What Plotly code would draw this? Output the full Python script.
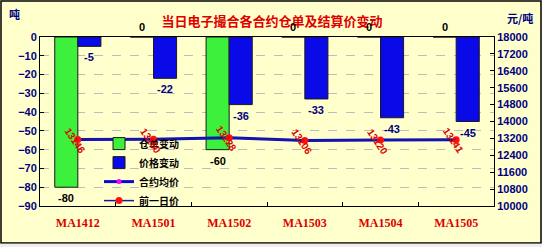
import plotly.graph_objects as go

categories = ["MA1412", "MA1501", "MA1502", "MA1503", "MA1504", "MA1505"]
warrant_change = [-80, 0, -60, 0, 0, 0]          # 仓单变动 (吨)
price_change = [-5, -22, -36, -33, -43, -45]     # 价格变动 (元/吨)
avg_price = [13146, 13160, 13228, 13106, 13120, 13141]   # 合约均价
prev_price = [13146, 13160, 13228, 13106, 13120, 13141]  # 前一日价

BG = "#FFFFCC"
NAVY = "#000080"
RED = "#E00000"

fig = go.Figure()
fig.add_trace(go.Bar(x=categories, y=warrant_change, name="仓单变动",
                     marker=dict(color="#3CF03C", line=dict(color="#1a1a1a", width=1))))
fig.add_trace(go.Bar(x=categories, y=price_change, name="价格变动",
                     marker=dict(color="#0A0AE8", line=dict(color="#1a1a1a", width=1))))
fig.add_trace(go.Scatter(x=categories, y=avg_price, name="合约均价", yaxis="y2",
                         mode="lines+markers",
                         line=dict(color="#0A0AD0", width=3),
                         marker=dict(color="#FF00FF", size=5)))
fig.add_trace(go.Scatter(x=categories, y=prev_price, name="前一日价", yaxis="y2",
                         mode="lines+markers",
                         line=dict(color="#1a1a90", width=1.5),
                         marker=dict(color="#FF1010", size=7)))

ann = []
BW = 11.5
for c, v in zip(categories, warrant_change):
    ann.append(dict(x=c, y=v, xref="x", yref="y", text=str(v), showarrow=False,
                    xshift=-BW, yshift=(10 if v == 0 else -11),
                    font=dict(family="Liberation Sans", size=11, color="#000000", weight="bold")))
for c, v in zip(categories, price_change):
    ann.append(dict(x=c, y=v, xref="x", yref="y", text=str(v), showarrow=False,
                    xshift=BW, yshift=-11,
                    font=dict(family="Liberation Sans", size=11, color=NAVY, weight="bold")))
for c, v in zip(categories, prev_price):
    ann.append(dict(x=c, y=v, xref="x", yref="y2", text=str(v), showarrow=False,
                    textangle=56, xshift=-3, yshift=-1,
                    font=dict(family="Liberation Sans", size=10, color=RED, weight="bold")))

unit_font = dict(family="Noto Sans CJK SC", size=11, color=NAVY, weight="bold")
ann.append(dict(x=-26 / 454, y=1 + 23 / 169, xref="paper", yref="paper", text="吨",
                showarrow=False, xanchor="center", yanchor="middle", font=unit_font))
ann.append(dict(x=(520 - 40) / 454, y=1 + 19 / 169, xref="paper", yref="paper", text="元/吨",
                showarrow=False, xanchor="center", yanchor="middle", font=unit_font))

fig.update_layout(
    width=542, height=247,
    margin=dict(l=40, r=48, t=37, b=41),
    paper_bgcolor=BG, plot_bgcolor=BG,
    barmode="group", bargap=0.39, bargroupgap=0,
    title=dict(text="当日电子撮合各合约仓单及结算价变动", x=272 / 542, y=1 - 21 / 247,
               xanchor="center", yanchor="middle",
               font=dict(family="Noto Sans CJK SC", size=13, color=RED, weight="bold")),
    xaxis=dict(type="category", showgrid=False, showline=True, linecolor="#000000", linewidth=1,
               mirror=True, ticks="inside", tickson="boundaries", ticklen=4, tickcolor="#000000",
               ticklabelstandoff=6,
               tickfont=dict(family="Liberation Serif", size=12, color="#DD0000", weight="bold")),
    yaxis=dict(range=[-90, 0], dtick=10, showline=True, linecolor="#000000", linewidth=1,
               ticks="inside", ticklen=4, tickcolor="#000000",
               showgrid=True, gridcolor="#BDBDBD", griddash="dash", gridwidth=1, zeroline=False,
               tickfont=dict(family="Liberation Sans", size=11, color=NAVY, weight="bold")),
    yaxis2=dict(range=[10000, 18000], tick0=10000, dtick=800, tickformat="d",
                overlaying="y", side="right",
                showline=True, linecolor="#000000", linewidth=1, ticks="inside", ticklen=4,
                tickcolor="#000000", showgrid=False, zeroline=False,
                tickfont=dict(family="Liberation Sans", size=11, color=NAVY, weight="bold")),
    legend=dict(x=0.13, y=0.455, xanchor="left", yanchor="top", bgcolor="rgba(0,0,0,0)",
                itemwidth=30, tracegroupgap=0,
                font=dict(family="Noto Sans CJK SC", size=10, color="#000000", weight="bold")),
    showlegend=True,
    annotations=ann,
)

# chart border and bottom strip
fig.add_shape(type="rect", xref="paper", yref="paper",
              x0=-39 / 454, x1=(541 - 40) / 454, y0=-37 / 169, y1=1 + 36 / 169,
              line=dict(color="#000000", width=1.5), fillcolor="rgba(0,0,0,0)", layer="above")
fig.add_shape(type="rect", xref="paper", yref="paper",
              x0=-40 / 454, x1=(542 - 40) / 454, y0=-41 / 169, y1=-37.7 / 169,
              line=dict(width=0), fillcolor="#EEEEF2", layer="above")

fig.write_html("out.html")
